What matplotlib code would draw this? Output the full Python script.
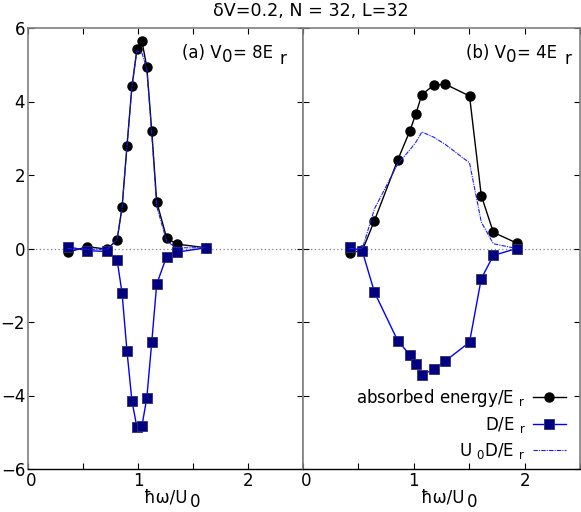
import matplotlib
matplotlib.use("Agg")
import matplotlib.pyplot as plt
import matplotlib.transforms as mtransforms
from matplotlib.ticker import MultipleLocator, FuncFormatter

plt.rcParams['font.family'] = ['DejaVu Sans']
plt.rcParams['mathtext.fontset'] = 'dejavusans'

# ---- data: panel (a) V0 = 8 Er ----
xa = [0.36, 0.54, 0.72, 0.81, 0.855, 0.90, 0.945, 0.99, 1.035, 1.08, 1.125, 1.17, 1.26, 1.35, 1.62]
abs_a = [-0.10, 0.05, -0.02, 0.24, 1.12, 2.80, 4.41, 5.42, 5.65, 4.94, 3.20, 1.27, 0.29, 0.12, 0.02]
D_a = [0.05, -0.06, -0.08, -0.31, -1.21, -2.80, -4.15, -4.86, -4.84, -4.07, -2.55, -0.97, -0.22, -0.10, 0.02]
U0D_a = [0.0, -0.02, -0.02, 0.24, 1.10, 2.78, 4.38, 5.38, 5.33, 4.88, 3.12, 1.15, 0.20, 0.02, 0.02]

# ---- data: panel (b) V0 = 4 Er ----
xb = [0.42, 0.536, 0.645, 0.855, 0.966, 1.018, 1.073, 1.179, 1.285, 1.503, 1.609, 1.718, 1.927]
abs_b = [-0.12, -0.05, 0.76, 2.41, 3.21, 3.66, 4.19, 4.44, 4.47, 4.15, 1.44, 0.44, 0.15]
D_b = [0.04, -0.08, -1.19, -2.51, -2.90, -3.15, -3.44, -3.29, -3.06, -2.55, -0.82, -0.19, 0.0]
U0D_b = [0.0, 0.0, 1.08, 2.30, 2.69, 2.89, 3.17, 3.03, 2.83, 2.33, 0.72, 0.13, 0.0]

title = "δV=0.2, N = 32, L=32"
panel_pieces = [[("(a) V", 0), ("0", 3.5), ("= 8E", 0), ("r", 6.5)],
                [("(b) V", 0), ("0", 3.5), ("= 4E", 0), ("r", 6.5)]]
xlabel_pieces = [("ħω/U", 0), ("0", 5)]
leg_labels = [r"absorbed energy/E $_{\rm r}$", r"D/E $_{\rm r}$", r"U $_0$D/E $_{\rm r}$"]

W, H = 581, 512
fig = plt.figure(figsize=(5.81, 5.12), dpi=100)
axa = fig.add_axes([28 / W, (H - 469) / H, 275 / W, 441 / H])
axb = fig.add_axes([303 / W, (H - 469) / H, 277 / W, 441 / H])

fs = 12


def chain_text(ax, pieces, x_px, base_px, rgap=7):
    prev = None
    for s, dy in pieces:
        y = 1 - (base_px + dy) / H
        if prev is None:
            prev = ax.annotate(s, xy=(x_px / W, y), xycoords='figure fraction',
                               ha='left', va='baseline', fontsize=fs, annotation_clip=False)
        else:
            gap = rgap if s == "r" else 2.5 if s == "0" and dy >= 5 else 0.3
            prev = ax.annotate(s, xy=(1, y), xycoords=(prev, 'figure fraction'),
                               xytext=(gap, 0), textcoords='offset pixels',
                               ha='left', va='baseline', fontsize=fs, annotation_clip=False)


for ax, x, a, d, u, pcs, xstart, xlx in [(axa, xa, abs_a, D_a, U0D_a, panel_pieces[0], 182, 144),
                                         (axb, xb, abs_b, D_b, U0D_b, panel_pieces[1], 466, 421)]:
    ax.axhline(0, color='#808080', lw=0.9, ls=(0, (1, 2)), zorder=1)
    l1, = ax.plot(x, a, color='black', lw=1.0, marker='o', ms=6.5, zorder=3)
    l2, = ax.plot(x, d, color='#0000ff', lw=1.0, marker='s', ms=6.5,
                  mfc='#000080', mec='#303070', mew=0.6, zorder=3)
    l3, = ax.plot(x, u, color='#1a1aff', lw=0.8, ls=(0, (4, 1, 1, 1)), zorder=4)
    ax.set_xlim(0, 2.5)
    ax.set_ylim(-6, 6)
    ax.xaxis.set_major_locator(MultipleLocator(0.5))
    ax.xaxis.set_major_formatter(FuncFormatter(lambda v, p: f"{int(round(v))}" if abs(v - round(v)) < 1e-6 and v < 2.4 else ""))
    ax.yaxis.set_major_locator(MultipleLocator(2))
    ax.tick_params(direction='in', length=4, width=0.8, labelsize=fs,
                   top=True, right=True, colors='black', pad=2)
    ax.tick_params(axis='x', pad=2)
    for s in ['left', 'top', 'right']:
        ax.spines[s].set_color('#7f7f7f')
        ax.spines[s].set_linewidth(1.2)
    ax.spines['bottom'].set_color('black')
    ax.spines['bottom'].set_linewidth(1.0)
    chain_text(ax, pcs, xstart, 58)
    chain_text(ax, xlabel_pieces, xlx, 502)

axb.tick_params(labelleft=False)
axb.legend([l1, l2, l3], leg_labels, loc='lower right', bbox_to_anchor=(0.985, -0.005),
           frameon=False, markerfirst=False, fontsize=fs, handlelength=2.0,
           handletextpad=0.4, labelspacing=0.38, borderaxespad=0.2)

fig.text(311 / W, 1 - 11.5 / H, title, ha='center', va='center', fontsize=12.6)

# nudge only the "0" x tick label right (as in the reference) so it clears "-6"
shift = mtransforms.ScaledTranslation(3.5 / 100, 0, fig.dpi_scale_trans)
for ax in (axa, axb):
    ticks = ax.xaxis.get_major_ticks()
    locs = ax.xaxis.get_majorticklocs()
    for tk, loc in zip(ticks, locs):
        if abs(loc) < 1e-9:
            tk.label1.set_transform(tk.label1.get_transform() + shift)

fig.savefig("out.png", dpi=100)
